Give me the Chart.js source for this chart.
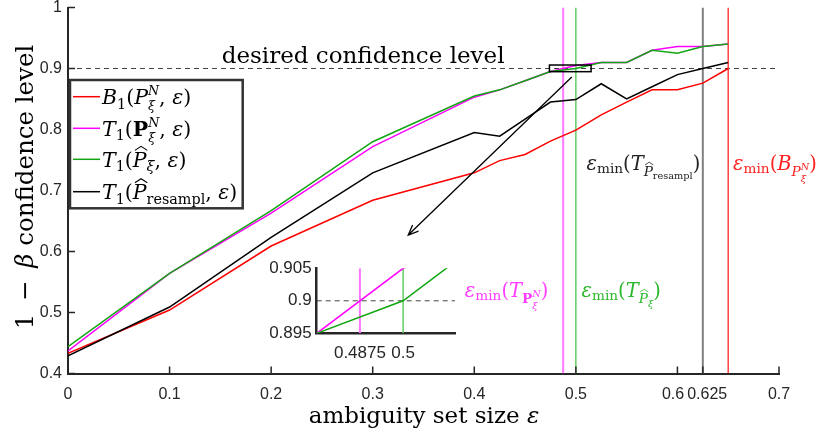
<!DOCTYPE html>
<html>
<head>
<meta charset="utf-8">
<title>Confidence level vs ambiguity set size</title>
<script src="https://cdn.jsdelivr.net/npm/chart.js@4.4.1/dist/chart.umd.min.js"></script>
<style>
  body { margin: 0; background: #fff; }
  #wrap { position: relative; width: 821px; height: 439px; }
  #mainChart { position: absolute; left: 0; top: 0; }
  #insetChart { position: absolute; left: 250px; top: 255px; }
</style>
</head>
<body>
<div id="wrap">
  <canvas id="mainChart" width="821" height="439"></canvas>
  <canvas id="insetChart" width="215" height="110"></canvas>
</div>
<script>
// radii where the confidence was evaluated
const epsGrid = [0, 0.1, 0.2, 0.3, 0.4, 0.425, 0.45, 0.475, 0.5, 0.525, 0.55, 0.575, 0.6, 0.625, 0.65];
// empirical 1 - beta per method
const confB1 = [0.433, 0.504, 0.609, 0.684, 0.729, 0.749, 0.759, 0.781, 0.799, 0.824, 0.845, 0.865, 0.865, 0.876, 0.9];
const confT1Bold = [0.437, 0.564, 0.663, 0.772, 0.853, 0.865, 0.88, 0.895, 0.905, 0.91, 0.91, 0.93, 0.936, 0.936, 0.94];
const confT1Hat = [0.444, 0.564, 0.667, 0.78, 0.855, 0.865, 0.88, 0.895, 0.9, 0.91, 0.91, 0.93, 0.925, 0.936, 0.94];
const confT1Resampl = [0.429, 0.509, 0.623, 0.729, 0.795, 0.789, 0.817, 0.845, 0.849, 0.875, 0.85, 0.87, 0.89, 0.9, 0.91];
// smallest radius reaching the target: T1 bold, T1 hat, T1 resampl, B1
const epsMin = [0.4875, 0.5, 0.625, 0.65];
const targetLevel = 0.9;

const xTicks = [0, 0.1, 0.2, 0.3, 0.4, 0.5, 0.6, 0.625, 0.7];
const yTicks = [0.4, 0.5, 0.6, 0.7, 0.8, 0.9, 1];
const insetXTicks = [0.4875, 0.5];
const insetYTicks = [0.895, 0.9, 0.905];

// zoom window (x0, x1, y0, y1) and the arrow pointing to the inset
const zoomBox = [0.474, 0.515, 0.8948, 0.9057];
const arrowFrom = [0.496, 0.886];
const arrowTo = [0.335, 0.627];

const SERIF = '"DejaVu Serif", serif';
const SANS = '"Liberation Sans", Arial, sans-serif';
const AXIS = '#262626';
const RED = '#ff0000', MAGENTA = '#ff00ff', GREEN = '#12a612', BLACK = '#000000';
const vlineColors = ['#ff77ff', '#62cc62', '#808080', '#ff4040'];
const vlineWidths = [2, 1.5, 2, 1.5];

const pts = (xs, ys) => xs.map((x, i) => ({ x: x, y: ys[i] }));
const curve = (label, ys, color) => ({
  label: label, data: pts(epsGrid, ys), borderColor: color,
  borderWidth: 1.5, pointRadius: 0, tension: 0
});
const vline = (i, y0, y1) => ({
  label: 'epsmin' + i, data: [{ x: epsMin[i], y: y0 }, { x: epsMin[i], y: y1 }],
  borderColor: vlineColors[i], borderWidth: vlineWidths[i], pointRadius: 0
});
const hline = (x0, x1) => ({
  label: 'target', data: [{ x: x0, y: targetLevel }, { x: x1, y: targetLevel }],
  borderColor: '#444', borderWidth: 1, borderDash: [5, 4], pointRadius: 0
});

// --- little math-text renderer (italic, bold, sub/sup, hats) ---
const it = t => ({ t: t, it: true });
const rm = t => ({ t: t });
const sub = (t, o) => Object.assign({ t: t, s: 0.7, dy: 0.22 }, o || {});
const supSub = (s, dy1, dy2) => ({ stack: [
  { t: 'N', it: true, s: s, dy: dy1 }, { t: 'ξ', it: true, s: s, dy: dy2 }
] });

function segFont(g, base) {
  return (g.it ? 'italic ' : '') + (g.bf ? 'bold ' : '') + (base * (g.s || 1)) + 'px ' + SERIF;
}

function richWidth(ctx, parts, base) {
  let w = 0;
  for (const p of parts) {
    let adv = 0;
    for (const g of (p.stack || [p])) {
      ctx.font = segFont(g, base);
      adv = Math.max(adv, ctx.measureText(g.t).width);
    }
    w += adv;
  }
  return w;
}

function drawRich(ctx, parts, x, y, base, color) {
  ctx.save();
  ctx.fillStyle = color;
  ctx.strokeStyle = color;
  ctx.textAlign = 'left';
  ctx.textBaseline = 'alphabetic';
  let cx = x;
  for (const p of parts) {
    let adv = 0;
    for (const g of (p.stack || [p])) {
      ctx.font = segFont(g, base);
      const w = ctx.measureText(g.t).width;
      const size = base * (g.s || 1);
      const gy = y + (g.dy || 0) * base;
      ctx.fillText(g.t, cx, gy);
      if (g.hat) {
        const top = gy - size * 0.8;
        ctx.lineWidth = Math.max(0.8, size / 20);
        ctx.beginPath();
        ctx.moveTo(cx + w * 0.15, top);
        ctx.lineTo(cx + w * 0.6, top - size * 0.2);
        ctx.lineTo(cx + w * 1.05, top);
        ctx.stroke();
      }
      adv = Math.max(adv, w);
    }
    cx += adv;
  }
  ctx.restore();
}

const legendItems = [
  { color: RED, parts: [it('B'), sub('1'), rm('('), it('P'), supSub(0.62, -0.45, 0.3), rm(', '), it('ε'), rm(')')] },
  { color: MAGENTA, parts: [it('T'), sub('1'), rm('('), { t: 'P', bf: true }, supSub(0.62, -0.45, 0.3), rm(', '), it('ε'), rm(')')] },
  { color: GREEN, parts: [it('T'), sub('1'), rm('('), { t: 'P', it: true, hat: true }, sub('ξ', { it: true }), rm(', '), it('ε'), rm(')')] },
  { color: BLACK, parts: [it('T'), sub('1'), rm('('), { t: 'P', it: true, hat: true }, sub('resampl'), rm(', '), it('ε'), rm(')')] }
];
const legendBox = [70, 80, 242.7, 208.3];
const legendRows = [96.7, 128.3, 159.3, 191.7];

const epsMinHead = [it('ε'), sub('min', { dy: 0.15 }), rm('(')];
const epsLabels = [
  { at: [0.3907, 0.5254], color: '#ff3cff', parts: epsMinHead.concat([it('T'), { t: 'P', bf: true, s: 0.7, dy: 0.3 }, supSub(0.5, 0.02, 0.6), rm(')')]) },
  { at: [0.5056, 0.5254], color: '#2cb82c', parts: epsMinHead.concat([it('T'), { t: 'P', it: true, hat: true, s: 0.7, dy: 0.3 }, { t: 'ξ', it: true, s: 0.5, dy: 0.5 }, rm(')')]) },
  { at: [0.5105, 0.7336], color: '#222222', parts: epsMinHead.concat([it('T'), { t: 'P', it: true, hat: true, s: 0.7, dy: 0.3 }, { t: 'resampl', s: 0.5, dy: 0.45 }, rm(')')]) },
  { at: [0.6548, 0.7336], color: '#ff2020', parts: epsMinHead.concat([it('B'), { t: 'P', it: true, s: 0.7, dy: 0.3 }, supSub(0.5, 0.02, 0.6), rm(')')]) }
];
const levelLabelAt = [0.1513, 0.909];

// axis titles, ticks, labels, legend, zoom box and arrow
const mainDecor = {
  id: 'mainDecor',
  afterDraw(chart) {
    const ctx = chart.ctx;
    const xs = chart.scales.x, ys = chart.scales.y;
    const area = chart.chartArea;
    const px = v => xs.getPixelForValue(v), py = v => ys.getPixelForValue(v);

    // inward tick marks
    ctx.save();
    ctx.strokeStyle = AXIS;
    ctx.lineWidth = 1.5;
    ctx.beginPath();
    xTicks.forEach(v => { ctx.moveTo(px(v), area.bottom); ctx.lineTo(px(v), area.bottom - 7); });
    yTicks.forEach(v => { ctx.moveTo(area.left, py(v)); ctx.lineTo(area.left + 7, py(v)); });
    ctx.stroke();

    // x tick labels, pushed apart where they would collide
    ctx.font = '16px ' + SANS;
    ctx.fillStyle = AXIS;
    ctx.textAlign = 'center';
    ctx.textBaseline = 'alphabetic';
    const lab = xTicks.map(v => ({ s: String(v), c: px(v), w: ctx.measureText(String(v)).width }));
    for (let i = 1; i < lab.length; i++) {
      const gap = (lab[i].c - lab[i].w / 2) - (lab[i - 1].c + lab[i - 1].w / 2) - 3;
      if (gap < 0) { lab[i - 1].c += gap / 2; lab[i].c -= gap / 2; }
    }
    lab.forEach(l => ctx.fillText(l.s, l.c, area.bottom + 25));
    ctx.restore();

    // axis titles
    const xTitle = [rm('ambiguity set size '), it('ε')];
    drawRich(ctx, xTitle, 424 - richWidth(ctx, xTitle, 23) / 2, 423, 23, BLACK);
    const yTitle = [rm('1 \u2009−\u2009 '), it('β'), rm(' confidence level')];
    ctx.save();
    ctx.translate(33, 187);
    ctx.rotate(-Math.PI / 2);
    drawRich(ctx, yTitle, -richWidth(ctx, yTitle, 24.5) / 2, 0, 24.5, BLACK);
    ctx.restore();

    // target level caption
    drawRich(ctx, [rm('desired confidence level')], px(levelLabelAt[0]), py(levelLabelAt[1]), 23, BLACK);

    // epsilon_min captions
    epsLabels.forEach(l => drawRich(ctx, l.parts, px(l.at[0]), py(l.at[1]), 19.5, l.color));

    // zoom window and arrow
    ctx.save();
    ctx.strokeStyle = BLACK;
    ctx.lineWidth = 1.5;
    ctx.strokeRect(px(zoomBox[0]), py(zoomBox[3]), px(zoomBox[1]) - px(zoomBox[0]), py(zoomBox[2]) - py(zoomBox[3]));
    const ax0 = px(arrowFrom[0]), ay0 = py(arrowFrom[1]);
    const ax1 = px(arrowTo[0]), ay1 = py(arrowTo[1]);
    const ang = Math.atan2(ay1 - ay0, ax1 - ax0);
    ctx.lineWidth = 1.3;
    ctx.beginPath();
    ctx.moveTo(ax0, ay0);
    ctx.lineTo(ax1, ay1);
    ctx.moveTo(ax1 - 11 * Math.cos(ang - 0.4), ay1 - 11 * Math.sin(ang - 0.4));
    ctx.lineTo(ax1, ay1);
    ctx.lineTo(ax1 - 11 * Math.cos(ang + 0.4), ay1 - 11 * Math.sin(ang + 0.4));
    ctx.stroke();
    ctx.restore();

    // legend
    ctx.save();
    ctx.fillStyle = '#ffffff';
    ctx.fillRect(legendBox[0], legendBox[1], legendBox[2] - legendBox[0], legendBox[3] - legendBox[1]);
    ctx.strokeStyle = '#333333';
    ctx.lineWidth = 2.5;
    ctx.strokeRect(legendBox[0], legendBox[1], legendBox[2] - legendBox[0], legendBox[3] - legendBox[1]);
    legendItems.forEach((item, i) => {
      const y = legendRows[i];
      ctx.strokeStyle = item.color;
      ctx.lineWidth = 1.5;
      ctx.beginPath();
      ctx.moveTo(73, y);
      ctx.lineTo(100, y);
      ctx.stroke();
      drawRich(ctx, item.parts, 102, y + 7.5, 20.5, BLACK);
    });
    ctx.restore();
  }
};

new Chart(document.getElementById('mainChart'), {
  type: 'line',
  data: {
    datasets: [
      curve('T1 hat', confT1Hat, GREEN),
      curve('T1 bold', confT1Bold, MAGENTA),
      curve('T1 resampl', confT1Resampl, BLACK),
      curve('B1', confB1, RED),
      vline(0, 0.4, 1), vline(1, 0.4, 1), vline(2, 0.4, 1), vline(3, 0.4, 1),
      hline(0, 0.7)
    ]
  },
  options: {
    responsive: false,
    animation: false,
    layout: { padding: { top: 7.5, right: 42, left: 0, bottom: 0 } },
    plugins: { legend: { display: false }, tooltip: { enabled: false } },
    scales: {
      x: {
        type: 'linear', min: 0, max: 0.7,
        afterBuildTicks: s => { s.ticks = xTicks.map(v => ({ value: v })); },
        afterFit: s => { s.height = 65.5; s.paddingLeft = 0; s.paddingRight = 0; },
        ticks: { display: false },
        grid: { display: false, drawTicks: false },
        border: { display: true, color: AXIS, width: 2 }
      },
      y: {
        min: 0.4, max: 1,
        afterBuildTicks: s => { s.ticks = yTicks.map(v => ({ value: v })); },
        afterFit: s => { s.width = 68; s.paddingTop = 0; s.paddingBottom = 0; },
        ticks: { font: { family: SANS, size: 16 }, color: AXIS, padding: 6, callback: v => String(v) },
        grid: { display: false, drawTicks: false },
        border: { display: true, color: AXIS, width: 2 }
      }
    }
  },
  plugins: [mainDecor]
});

// magnified view around the crossing of the target level
new Chart(document.getElementById('insetChart'), {
  type: 'line',
  data: {
    datasets: [
      curve('T1 hat', confT1Hat, GREEN),
      curve('T1 bold', confT1Bold, MAGENTA),
      vline(0, 0.895, 0.905), vline(1, 0.895, 0.905),
      hline(0.475, 0.515)
    ]
  },
  options: {
    responsive: false,
    animation: false,
    layout: { padding: { top: 13.3, right: 10, left: 0, bottom: 0 } },
    plugins: { legend: { display: false }, tooltip: { enabled: false } },
    scales: {
      x: {
        type: 'linear', min: 0.475, max: 0.515,
        afterBuildTicks: s => { s.ticks = insetXTicks.map(v => ({ value: v })); },
        afterFit: s => { s.height = 31.7; s.paddingLeft = 0; s.paddingRight = 0; },
        ticks: { font: { family: SANS, size: 17 }, color: AXIS, padding: 10, maxRotation: 0, autoSkip: false, callback: v => String(v) },
        grid: { display: false, drawTicks: false },
        border: { display: true, color: AXIS, width: 2.5 }
      },
      y: {
        min: 0.895, max: 0.905,
        afterBuildTicks: s => { s.ticks = insetYTicks.map(v => ({ value: v })); },
        afterFit: s => { s.width = 66.7; s.paddingTop = 0; s.paddingBottom = 0; },
        ticks: { font: { family: SANS, size: 17 }, color: AXIS, padding: 5, callback: v => String(v) },
        grid: { display: false, drawTicks: false },
        border: { display: true, color: AXIS, width: 2.5 }
      }
    }
  }
});
</script>
</body>
</html>
